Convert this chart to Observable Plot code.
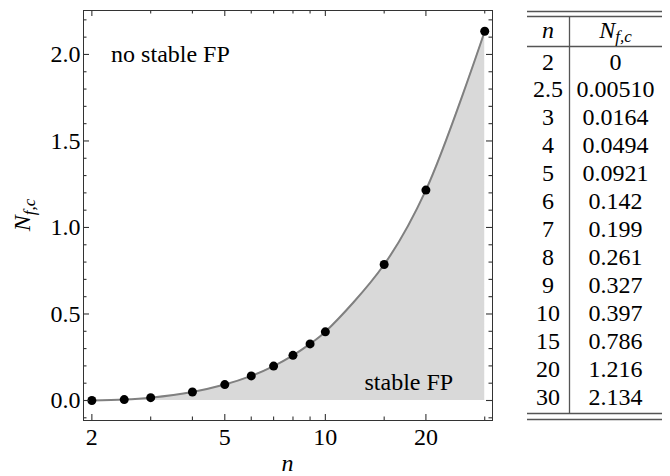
<!DOCTYPE html>
<html><head><meta charset="utf-8">
<script src="https://cdn.jsdelivr.net/npm/d3@7"></script>
<script src="https://cdn.jsdelivr.net/npm/@observablehq/plot@0.6"></script>
<style>body{margin:0;background:#fff} #chart{width:670px;height:476px}</style>
</head><body><div id="chart"></div>
<script>
const nValues   = [2, 2.5, 3, 4, 5, 6, 7, 8, 9, 10, 15, 20, 30];
const nfcValues = [0, 0.00510, 0.0164, 0.0494, 0.0921, 0.142, 0.199, 0.261, 0.327, 0.397, 0.786, 1.216, 2.134];
const nLabels   = ["2", "2.5", "3", "4", "5", "6", "7", "8", "9", "10", "15", "20", "30"];
const nfcLabels = ["0", "0.00510", "0.0164", "0.0494", "0.0921", "0.142", "0.199", "0.261", "0.327", "0.397", "0.786", "1.216", "2.134"];
const xMajorTicks = [2, 5, 10, 20];
const xMinorTicks = [3, 4, 6, 7, 8, 9, 15, 30];
const yMajorTicks = [0, 0.5, 1.0, 1.5, 2.0];
const yMinorTicks = [-0.1, 0.1, 0.2, 0.3, 0.4, 0.6, 0.7, 0.8, 0.9, 1.1, 1.2, 1.3, 1.4, 1.6, 1.7, 1.8, 1.9, 2.1, 2.2];
const upperLabel = [{n: 2.284, v: 1.954, text: "no stable FP"}];
const lowerLabel = [{n: 24.14, v: 0.058, text: "stable FP"}];

const data = nValues.map((n, i) => ({n, v: nfcValues[i]}));
const serif = "'Liberation Serif', 'Times New Roman', serif";
const tickColor = "#333";
const W = 670, H = 476, mL = 83, mR = 178, mT = 10, mB = 56;
const fw = W - mL - mR, fh = H - mT - mB;

function ticks(values, side, len) {
  const o = {stroke: tickColor, strokeWidth: 1.1};
  if (side === "bottom") return Plot.tickX(values, {...o, x: d => d, insetTop: fh - len});
  if (side === "top") return Plot.tickX(values, {...o, x: d => d, insetBottom: fh - len});
  if (side === "left") return Plot.tickY(values, {...o, y: d => d, insetRight: fw - len});
  return Plot.tickY(values, {...o, y: d => d, insetLeft: fw - len});
}

const plot = Plot.plot({
  width: W, height: H,
  marginLeft: mL, marginRight: mR, marginTop: mT, marginBottom: mB,
  style: {fontFamily: serif, fontSize: "24px", color: "black", background: "white"},
  x: {type: "log", domain: [1.888, 31.65], label: null, axis: null},
  y: {domain: [-0.1156, 2.254], label: null, axis: null},
  marks: [
    Plot.areaY(data, {x: "n", y1: 0, y2: "v", fill: "#d9d9d9", curve: "catmull-rom"}),
    Plot.line(data, {x: "n", y: "v", stroke: "#808080", strokeWidth: 2, curve: "catmull-rom"}),
    Plot.dot(data, {x: "n", y: "v", r: 4.5, fill: "black"}),
    Plot.text(upperLabel, {x: "n", y: "v", text: "text", textAnchor: "start", lineAnchor: "bottom", fill: "black"}),
    Plot.text(lowerLabel, {x: "n", y: "v", text: "text", textAnchor: "end", lineAnchor: "bottom", fill: "black"}),
    Plot.frame({stroke: tickColor}),
    ticks(xMajorTicks, "bottom", 6), ticks(xMinorTicks, "bottom", 3.5),
    ticks(xMajorTicks, "top", 6), ticks(xMinorTicks, "top", 3.5),
    ticks(yMajorTicks, "left", 6), ticks(yMinorTicks, "left", 3.5),
    ticks(yMajorTicks, "right", 6), ticks(yMinorTicks, "right", 3.5),
    Plot.text(xMajorTicks, {x: d => d, frameAnchor: "bottom", lineAnchor: "top", dy: 7, text: d => String(d), fill: "black"}),
    Plot.text(yMajorTicks, {y: d => d, frameAnchor: "left", textAnchor: "end", dx: -3, text: d => d.toFixed(1), fill: "black"})
  ]
});
document.getElementById("chart").appendChild(plot);

const svg = d3.select(plot);
// axis titles
const yl = svg.append("text").attr("transform", "translate(30,215) rotate(-90)")
  .attr("text-anchor", "middle").attr("font-family", serif).attr("font-size", 24)
  .attr("font-style", "italic").attr("fill", "black");
yl.append("tspan").text("N");
yl.append("tspan").attr("font-size", 17).attr("dy", 4.5).text("f,c");
svg.append("text").attr("x", 287.5).attr("y", 471).attr("text-anchor", "middle")
  .attr("font-family", serif).attr("font-size", 24).attr("font-style", "italic")
  .attr("fill", "black").text("n");

// table
const tb = svg.append("g").attr("font-family", serif).attr("font-size", 24).attr("fill", "black");
const tx0 = 527, tx1 = 662, colDiv = 569.5, c1 = 548, c2 = 615.5;
const ruleColor = "#555";
[11.5, 16.5, 46.5, 413.5, 419.5].forEach(y => {
  tb.append("line").attr("x1", tx0).attr("x2", tx1).attr("y1", y).attr("y2", y)
    .attr("stroke", ruleColor).attr("stroke-width", 1.3);
});
tb.append("line").attr("x1", colDiv).attr("x2", colDiv).attr("y1", 16.5).attr("y2", 413.5)
  .attr("stroke", ruleColor).attr("stroke-width", 1.3);
tb.append("text").attr("x", c1).attr("y", 37.5).attr("text-anchor", "middle")
  .attr("font-style", "italic").text("n");
const hN = tb.append("text").attr("x", c2).attr("y", 37.5).attr("text-anchor", "middle").attr("font-style", "italic");
hN.append("tspan").text("N");
hN.append("tspan").attr("font-size", 17).attr("dy", 4.5).text("f,c");
nLabels.forEach((lab, i) => {
  const yb = 61.5 + 27.92 * i + 8;
  tb.append("text").attr("x", c1).attr("y", yb).attr("text-anchor", "middle").text(lab);
  tb.append("text").attr("x", c2).attr("y", yb).attr("text-anchor", "middle").text(nfcLabels[i]);
});
</script>
</body></html>
